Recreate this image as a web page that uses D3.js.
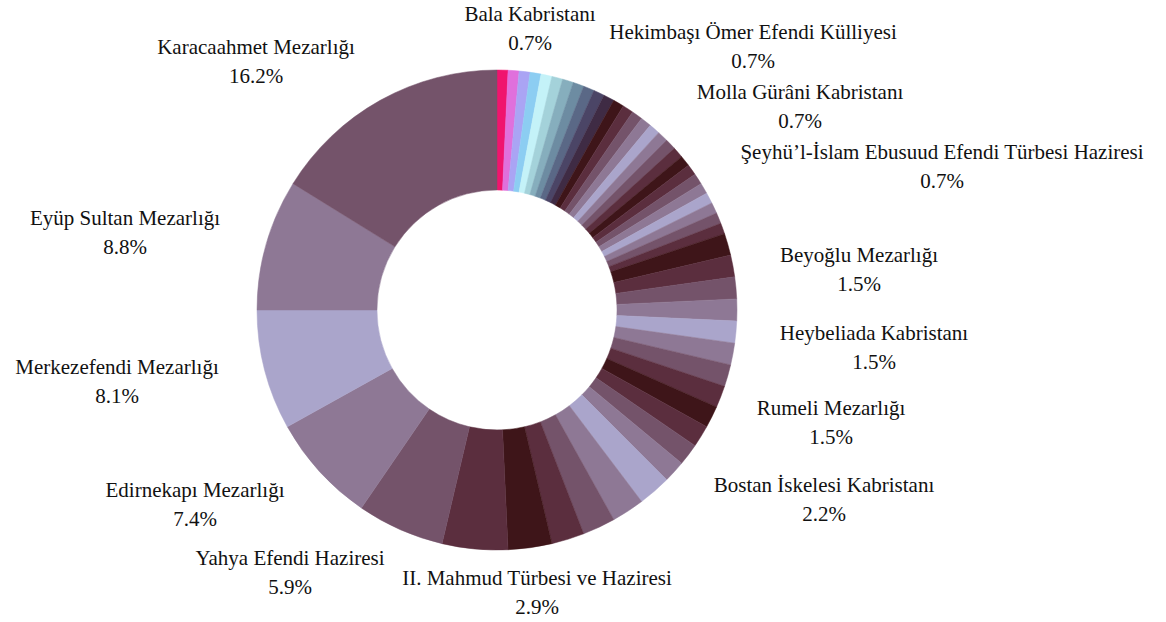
<!DOCTYPE html>
<html>
<head>
<meta charset="utf-8">
<script src="https://cdnjs.cloudflare.com/ajax/libs/d3/7.8.5/d3.min.js"></script>
<style>
  body { margin: 0; background: #fff; }
  text { font-family: "Liberation Serif", "Times New Roman", serif; font-size: 21px; fill: #111; }
</style>
</head>
<body>
<div id="chart"></div>
<script>

// number of burials per cemetery (total 136), sorted ascending clockwise from the top
var counts = [1, 1, 1, 1, 1, 1, 1, 1, 1, 1,
              1, 1, 1, 1, 1, 1, 1, 1, 1, 1,
              1, 1, 1, 1, 1, 1, 1,
              2, 2, 2, 2, 2, 2, 2, 2, 2, 2, 2, 2,
              3, 3, 3, 3,
              4, 6, 8, 10, 11, 12, 22];

// names only for the slices that carry a label in the figure
var names = ["Bala Kabristanı", "Hekimbaşı Ömer Efendi Külliyesi", "Molla Gürâni Kabristanı",
             "Şeyhü’l-İslam Ebusuud Efendi Türbesi Haziresi", "", "", "", "", "", "",
             "", "", "", "", "", "", "", "", "", "",
             "", "", "", "", "", "", "",
             "", "", "", "", "", "Beyoğlu Mezarlığı", "", "Heybeliada Kabristanı", "", "Rumeli Mezarlığı", "", "",
             "", "Bostan İskelesi Kabristanı", "", "",
             "II. Mahmud Türbesi ve Haziresi", "", "Yahya Efendi Haziresi", "Edirnekapı Mezarlığı",
             "Merkezefendi Mezarlığı", "Eyüp Sultan Mezarlığı", "Karacaahmet Mezarlığı"];

// where the two-line labels sit (centre x, first baseline y)
var labelPos = {
  "Bala Kabristanı": [530, 21],
  "Hekimbaşı Ömer Efendi Külliyesi": [753, 39],
  "Molla Gürâni Kabristanı": [800, 99],
  "Şeyhü’l-İslam Ebusuud Efendi Türbesi Haziresi": [942, 159],
  "Beyoğlu Mezarlığı": [859, 262],
  "Heybeliada Kabristanı": [874, 340],
  "Rumeli Mezarlığı": [831, 415],
  "Bostan İskelesi Kabristanı": [824, 492],
  "II. Mahmud Türbesi ve Haziresi": [537, 585],
  "Yahya Efendi Haziresi": [290, 565],
  "Edirnekapı Mezarlığı": [195, 497],
  "Merkezefendi Mezarlığı": [117, 374],
  "Eyüp Sultan Mezarlığı": [125, 225],
  "Karacaahmet Mezarlığı": [256, 54]
};

// first slices get their own colours, the rest bounce through the mauve shades
var firstColors = ["#f0146e", "#e070dc", "#aaa4f4", "#8ccdf2", "#c4f2f8", "#a4d2da",
                   "#86aebd", "#6d8ca2", "#5a6886", "#4b4566", "#3f2b44"];
var shades = ["#aaa5cb", "#8e7895", "#74536a", "#5b2e3e", "#3e1519"];

function sliceColor(i) {
  if (i < firstColors.length) return firstColors[i];
  var k = counts.length - 1 - i;
  var p = ((2 - k) % 8 + 8) % 8;
  return shades[p <= 4 ? p : 8 - p];
}

var width = 1166, height = 622;
var cx = 497, cy = 310, rOuter = 240, rInner = 120;

var total = d3.sum(counts);
var fmt = d3.format(".1f");

var svg = d3.select("#chart")
  .append("svg")
    .attr("width", width)
    .attr("height", height);

var data = counts.map(function(d, i) { return {value: d, name: names[i], i: i}; });

var pie = d3.pie()
    .sort(null)
    .value(function(d) { return d.value; });

var arc = d3.arc()
    .innerRadius(rInner)
    .outerRadius(rOuter);

var g = svg.append("g")
    .attr("transform", "translate(" + cx + "," + cy + ")");

g.selectAll("path")
  .data(pie(data))
  .enter()
  .append("path")
    .attr("d", arc)
    .style("fill", function(d) { return sliceColor(d.data.i); })
    .style("stroke", function(d) { return sliceColor(d.data.i); })
    .style("stroke-width", 0.5);

// labels
var labelled = data.filter(function(d) { return d.name != ""; });

var lab = svg.append("g")
  .selectAll("text")
  .data(labelled)
  .enter()
  .append("text")
    .attr("text-anchor", "middle")
    .attr("transform", function(d) { var p = labelPos[d.name]; return "translate(" + p[0] + "," + p[1] + ")"; });

lab.append("tspan")
    .attr("x", 0)
    .attr("y", 0)
    .text(function(d) { return d.name; });

lab.append("tspan")
    .attr("x", 0)
    .attr("y", 29)
    .text(function(d) { return fmt(d.value / total * 100) + "%"; });

</script>
</body>
</html>
